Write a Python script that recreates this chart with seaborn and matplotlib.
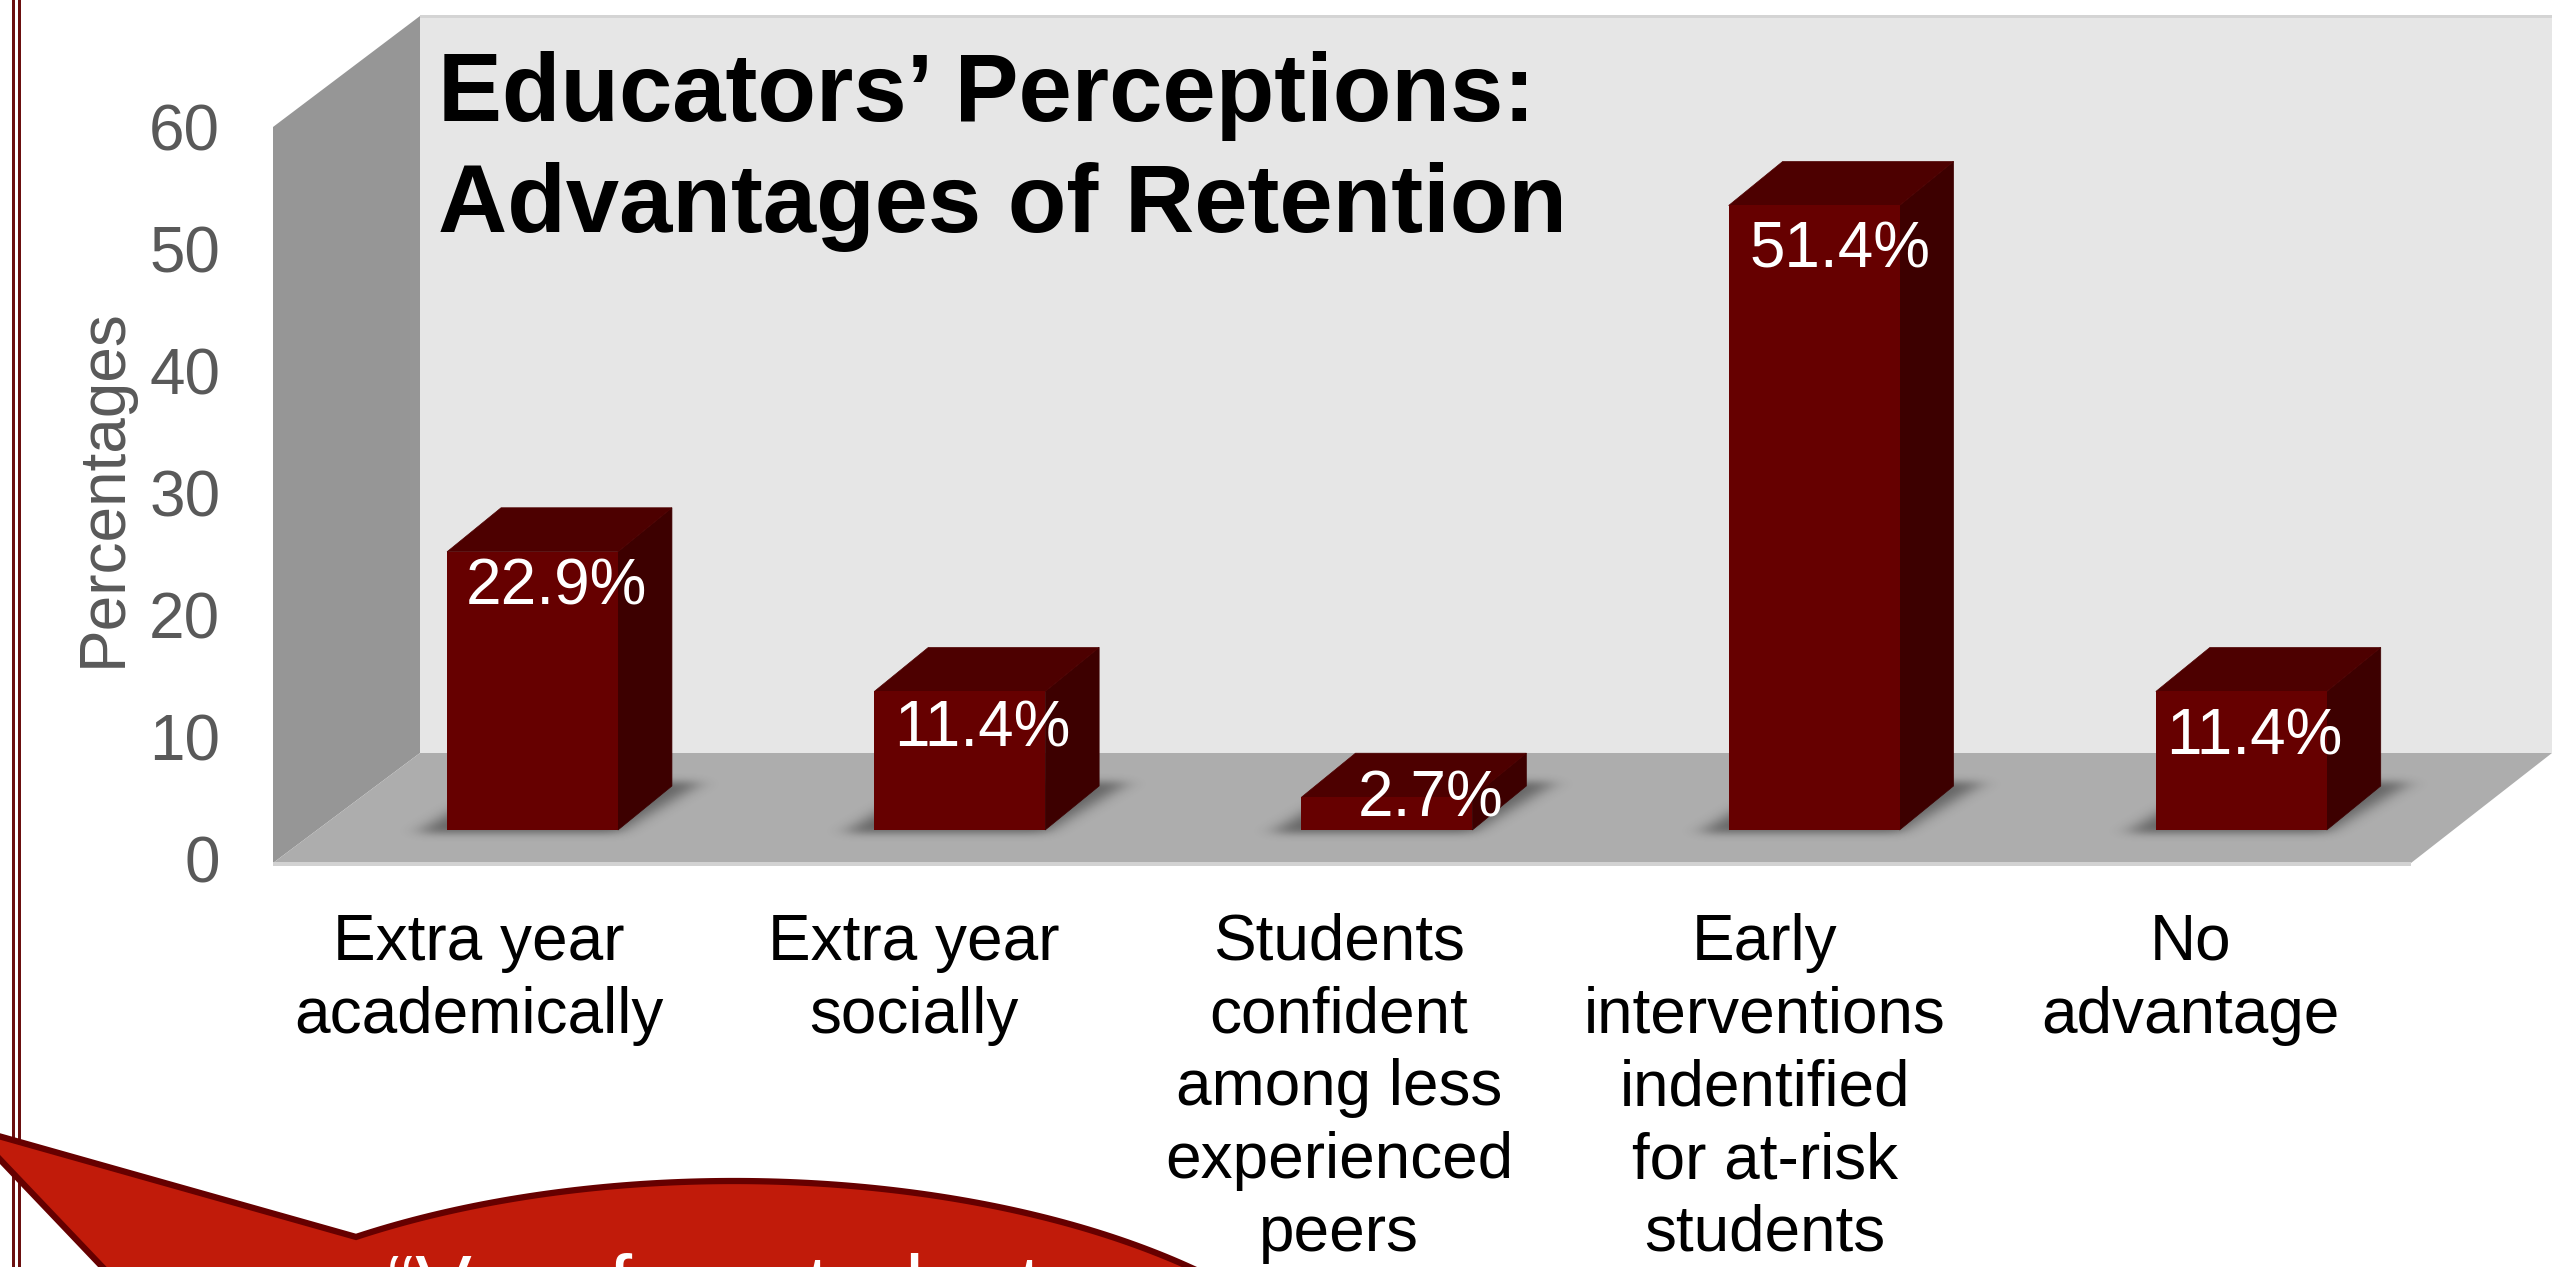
import numpy as np
import pandas as pd
import matplotlib
matplotlib.use("Agg")
import matplotlib.pyplot as plt
from matplotlib.patches import Polygon, Rectangle
from matplotlib.path import Path
from matplotlib.transforms import Affine2D
import seaborn as sns

# Survey results
categories = [
    "Extra year\nacademically",
    "Extra year\nsocially",
    "Students\nconfident\namong less\nexperienced\npeers",
    "Early\ninterventions\nindentified\nfor at-risk\nstudents",
    "No\nadvantage",
]
percentages = [22.9, 11.4, 2.7, 51.4, 11.4]
value_labels = ["22.9%", "11.4%", "2.7%", "51.4%", "11.4%"]
axis_ticks = [0, 10, 20, 30, 40, 50, 60]

W, H, DPI = 2552, 1267, 100
PX_PER_CAT = 427.2
PX_PER_UNIT = 12.15
BASE_X, BASE_Y = 532.5, 830.0
DEPTH_X, DEPTH_Y = 54.0, 44.0

FRONT, SIDE, TOP = "#660000", "#3D0000", "#4D0000"
GREY_TEXT = "#595959"

sns.set_theme(style="white")
plt.rcParams["font.family"] = ["Liberation Sans", "DejaVu Sans"]

fig = plt.figure(figsize=(W / DPI, H / DPI), dpi=DPI, facecolor="white")
ax = fig.add_axes([0, 0, 1, 1], facecolor="none")

df = pd.DataFrame({"category": categories, "pct": percentages})
sns.barplot(data=df, x="category", y="pct", color=FRONT, saturation=1,
            width=0.40, ax=ax, zorder=5, linewidth=0, edgecolor="none")
bars = list(ax.containers[0])
xlim = (-BASE_X / PX_PER_CAT, (W - BASE_X) / PX_PER_CAT)
ylim = (-(H - BASE_Y) / PX_PER_UNIT, BASE_Y / PX_PER_UNIT)
ax.set_xticks([])
ax.set_yticks([])
ax.set_xlabel("")
ax.set_ylabel("")
sns.despine(ax=ax, left=True, bottom=True)

# Pixel coordinates measured from the top-left corner of the figure
px = Affine2D().scale(1 / W, -1 / H).translate(0, 1) + ax.transAxes


def backdrop(points, color, zorder=1, **kw):
    ax.add_patch(Polygon(points, closed=True, facecolor=color, edgecolor="none",
                         transform=px, zorder=zorder, **kw))


def gaussian(sigma):
    t = np.arange(-int(3 * sigma), int(3 * sigma) + 1)
    kernel = np.exp(-0.5 * (t / sigma) ** 2)
    return kernel / kernel.sum()


def soft_shadow(x0, x1, dx):
    """Blurred footprint of one bar on the floor, drawn in data units."""
    ux, uy = 1 / PX_PER_CAT, 1 / PX_PER_UNIT
    left, right = x0 - 90 * ux, x1 + dx + 90 * ux
    bottom, top = -40 * uy, 90 * uy
    nx, ny = int((right - left) / ux), int((top - bottom) / uy)
    gx, gy = np.meshgrid(np.linspace(left, right, nx), np.linspace(bottom, top, ny))
    footprint = Path([(x0 - 30 * ux, -3 * uy), (x1, -3 * uy),
                      (x1 + dx + 30 * ux, 48 * uy), (x0 + dx, 48 * uy)])
    mask = footprint.contains_points(np.column_stack([gx.ravel(), gy.ravel()])).reshape(ny, nx).astype(float)
    kx, ky = gaussian(10), gaussian(4)
    mask = np.apply_along_axis(lambda r: np.convolve(r, kx, mode="same"), 1, mask)
    mask = np.apply_along_axis(lambda c: np.convolve(c, ky, mode="same"), 0, mask)
    rgba = np.zeros((ny, nx, 4))
    rgba[..., 3] = 0.42 * mask
    ax.imshow(rgba, extent=(left, right, bottom, top), origin="lower", aspect="auto",
              interpolation="bilinear", zorder=2)


# Chart box: back wall, side wall, floor and their light edges
backdrop([(420, 16), (W, 16), (W, 753), (420, 753)], "#E6E6E6")
backdrop([(273, 127), (420, 16), (420, 753), (273, 863)], "#969696")
backdrop([(273, 863), (420, 753), (W, 753), (2411, 863)], "#ADADAD")
backdrop([(273, 862), (2411, 862), (2411, 866), (273, 866)], "#D2D2D2")
backdrop([(420, 15), (W, 15), (W, 18), (420, 18)], "#D4D4D4")

# Slide border rules at the left edge
for left, width in [(12, 3.3), (17.5, 3.0)]:
    ax.add_patch(Rectangle((left, 0), width, H, facecolor="#6B0F0F", edgecolor="none",
                           transform=px, zorder=0.5))

# Bar depth, side and top faces, and the soft floor shadow under each bar
ux, uy = 1 / PX_PER_CAT, 1 / PX_PER_UNIT
for bar in bars:
    x0, w, h = bar.get_x(), bar.get_width(), bar.get_height()
    x1 = x0 + w
    dx, dy = DEPTH_X * ux, DEPTH_Y * uy
    ax.add_patch(Polygon([(x1, 0), (x1 + dx, dy), (x1 + dx, h + dy), (x1, h)],
                         facecolor=SIDE, edgecolor=SIDE, lw=0.5, zorder=4))
    ax.add_patch(Polygon([(x0, h), (x0 + dx, h + dy), (x1 + dx, h + dy), (x1, h)],
                         facecolor=TOP, edgecolor=TOP, lw=0.5, zorder=4))
    soft_shadow(x0, x1, dx)

ax.set_xlim(*xlim)
ax.set_ylim(*ylim)

# Value labels sit inside each front face, nudged as on the slide (px right, px below the top)
label_nudges = [(24, 36), (23, 38), (44, 2), (26, 45), (13, 46)]
for bar, text, (nx, ny) in zip(bars, value_labels, label_nudges):
    ax.text(bar.get_x() + bar.get_width() / 2 + nx * ux, bar.get_height() - ny * uy, text,
            color="white", fontsize=46, ha="center", va="center", zorder=7)

# Value axis follows the front edge of the side wall
shift = 2.4
scale = PX_PER_UNIT / 12.2
yaxis = ax.secondary_yaxis(273 / W, functions=(lambda v: (v + shift) * scale,
                                               lambda t: t / scale - shift))
yaxis.set_yticks(axis_ticks)
yaxis.tick_params(length=0, pad=38, labelsize=46, labelcolor=GREY_TEXT)
yaxis.spines["left"].set_visible(False)
yaxis.set_ylabel("Percentages", fontsize=46, color=GREY_TEXT, labelpad=11, y=1 - 488 / H)

# Category labels are centred under the floor, left of the bars' fronts
xshift = 52 / PX_PER_CAT
label_offsets = [-2.0, 6.0, 4.0, 2.5, 1.0]
xaxis = ax.secondary_xaxis(1 - 913 / H, functions=(lambda v: v + xshift, lambda t: t - xshift))
xaxis.set_xticks([i + off / PX_PER_CAT for i, off in enumerate(label_offsets)])
xaxis.set_xticklabels(categories, fontsize=46, color="black", linespacing=1.27)
xaxis.tick_params(length=0, pad=0)
xaxis.spines["bottom"].set_visible(False)

ax.set_title("Educators’ Perceptions:\nAdvantages of Retention", loc="left",
             x=438 / W, y=1 - 232 / H, fontsize=69, fontweight="bold", color="black",
             linespacing=1.3, pad=0)

# Speech bubble across the bottom of the slide
cx, cy, a, b = 734.0, 1481.0, 650.0, 300.0
theta = np.linspace(np.arccos((356 - cx) / a), np.arccos((1330 - cx) / a), 120)
arc_x = cx + a * np.cos(theta)
arc_y = cy - b * np.sin(theta)
outline = [(-30, 1128)] + list(zip(arc_x, arc_y)) + [(1330, 1400), (229, 1400)]
ax.add_patch(Polygon(outline, closed=True, facecolor="#C11B0A", edgecolor="#660000",
                     lw=4.5, joinstyle="miter", transform=px, zorder=8, clip_on=True))
ax.text(736 / W, 1 - 1315 / H, "“Very few students", transform=ax.transAxes, color="white",
        fontsize=61, ha="center", va="baseline", zorder=9)

fig.savefig("out.png", dpi=DPI, facecolor="white")
